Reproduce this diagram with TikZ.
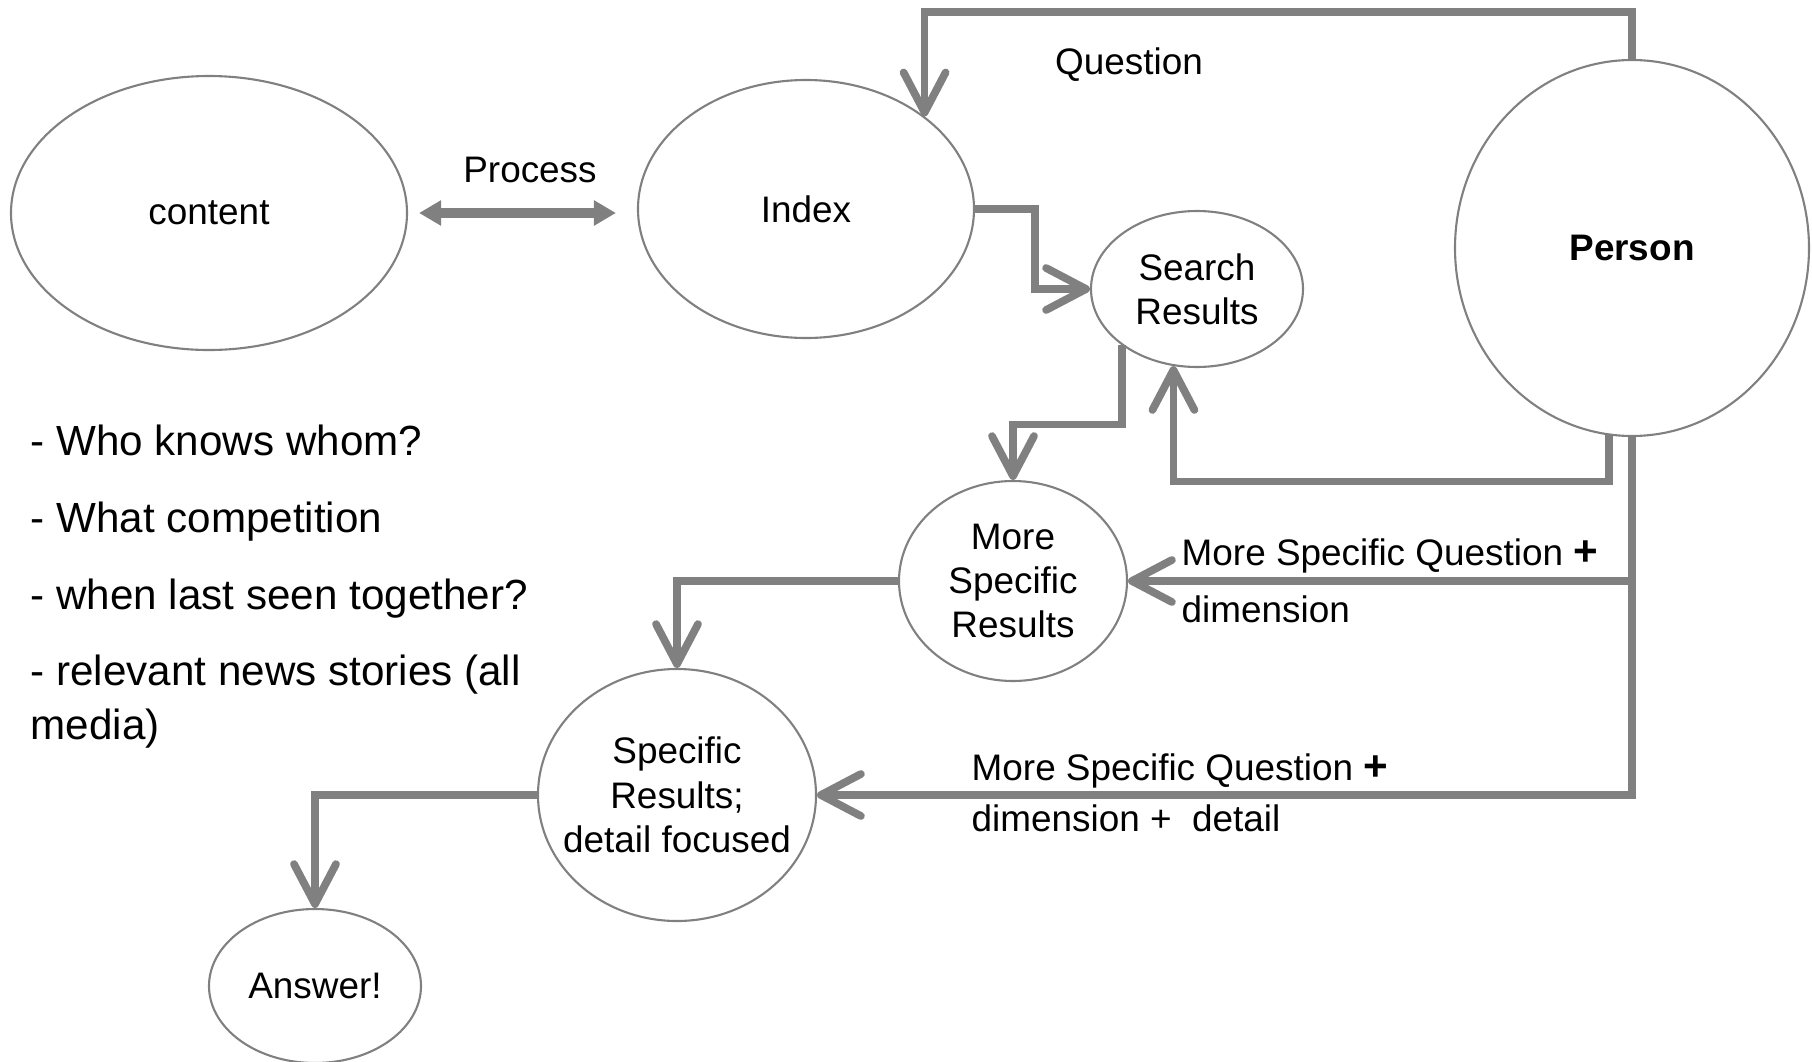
\documentclass[tikz,border=0pt]{standalone}
\usepackage{fontspec}
\setmainfont{Liberation Sans}
\usepackage{tikz}
\usetikzlibrary{positioning,arrows.meta,shapes.geometric}
\definecolor{linecol}{RGB}{128,128,128}
\newcommand{\diafont}{\fontsize{10.5}{12.6}\selectfont}
\newcommand{\itemfont}{\fontsize{12}{15.2}\selectfont}

\begin{document}
\begin{tikzpicture}[
  blob/.style={ellipse, draw=linecol, line width=0.6pt, inner sep=0pt,
               align=center, font=\diafont},
  ar/.style={-{Straight Barb[length=4mm,width=4.2mm,round]}, draw=linecol,
             line width=2.2pt},
  dbl/.style={{Triangle[length=2.2mm,width=2.4mm]}-{Triangle[length=2.2mm,width=2.4mm]},
              draw=linecol, line width=2.8pt},
  lb/.style={font=\diafont, inner sep=0pt},
  item/.style={font=\itemfont, inner sep=0pt, anchor=base west, align=left},
]
\useasboundingbox (0,0) rectangle (18.12,-10.62);

\node[blob, minimum width=3.96cm, minimum height=2.74cm] (content) at (2.09,-2.13) {content};
\node[blob, minimum width=3.36cm, minimum height=2.58cm] (idx)     at (8.06,-2.09) {Index};
\node[blob, minimum width=2.12cm, minimum height=1.56cm] (search)  at (11.97,-2.89) {Search\\Results};
\node[blob, minimum width=3.54cm, minimum height=3.76cm, font=\diafont\bfseries]
    (person) at (16.32,-2.48) {Person};
\node[blob, minimum width=2.28cm, minimum height=2.00cm] (more)    at (10.13,-5.81) {More\\Specific\\Results};
\node[blob, minimum width=2.78cm, minimum height=2.52cm, inner xsep=-5pt]
    (spec) at (6.77,-7.95) {Specific\\Results;\\detail focused};
\node[blob, minimum width=2.12cm, minimum height=1.54cm] (ans)     at (3.15,-9.86) {Answer!};

% content <-> index
\draw[dbl] ([xshift=1.1mm]content.east) -- ([xshift=-2.1mm]content.east -| idx.west);
\node[lb] (proc) at (5.30,-1.70) {Process};

% question loop from the person
\draw[ar] (person.north) -- ++(0,0.47) -| (idx.38);
\node[lb] (qlab) at (11.29,-0.65) {Question};

\draw[ar] (idx.east) -- ++(0.6,0) |- (search.west);
\draw[ar] (search.217) -- ++(0,-0.79) -| (more.north);
\draw[ar] (person.263) -- ++(0,-0.46) -| (search.253);

\foreach \b in {more,spec}
  \draw[ar] (person.south) |- (\b.east);
\foreach \a/\b in {more/spec, spec/ans}
  \draw[ar] (\a.west) -| (\b.north);

\node[lb, anchor=west] (mq1) at (11.81,-5.56) {More Specific Question {\large\textbf{+}}};
\node[lb, anchor=west] (md1) at (11.81,-6.09) {dimension};
\node[lb, anchor=west] (mq2) at (9.71,-7.71) {More Specific Question {\large\textbf{+}}};
\node[lb, anchor=west] (md2) at (9.71,-8.18) {dimension +\ \ detail};

% open questions
\foreach \txt/\y [count=\i] in {- Who knows whom?/-4.55, - What competition/-5.32,
    - when last seen together?/-6.09, {- relevant news stories (all\\media)}/-7.39}
  \node[item] (item\i) at (0.30,\y) {\txt};
\end{tikzpicture}
\end{document}
